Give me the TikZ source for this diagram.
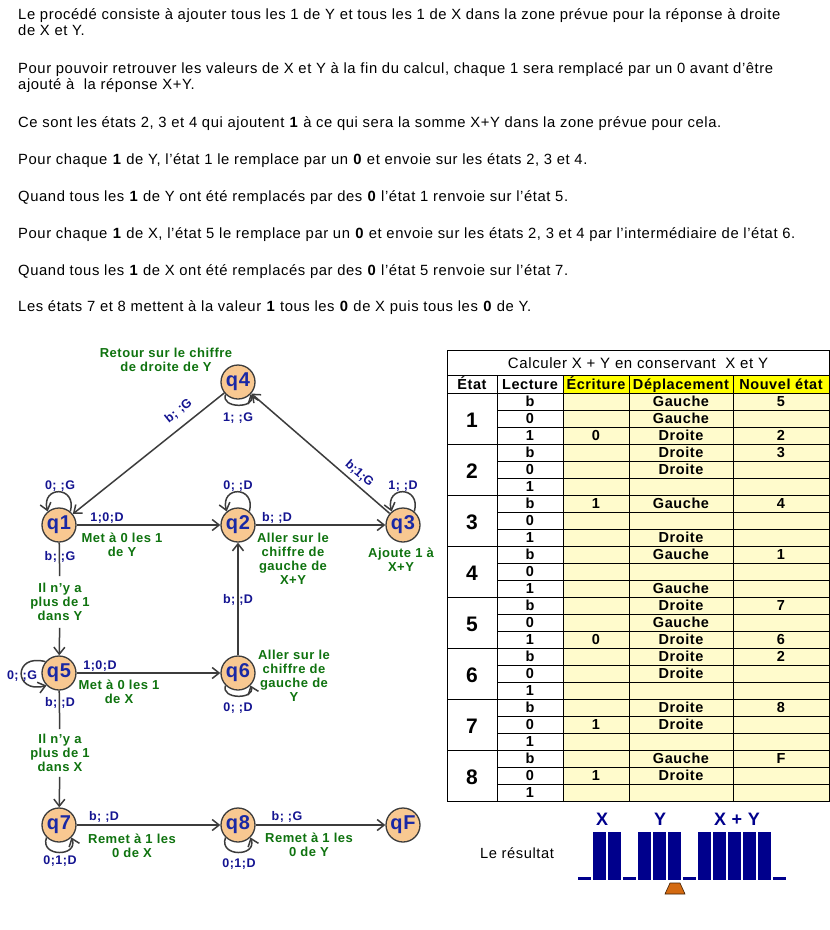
\documentclass[tikz,border=0pt]{standalone}
\usepackage{fontspec}
\setmainfont{Liberation Sans}[LetterSpace=4]
\usetikzlibrary{arrows.meta}
\newcommand\myfs[2]{\fontsize{#1}{#2}\selectfont}
\definecolor{stfill}{RGB}{248,200,145}
\definecolor{stdraw}{RGB}{60,60,60}
\definecolor{stq}{RGB}{25,40,165}
\definecolor{lblue}{RGB}{20,20,145}
\definecolor{lgreen}{RGB}{15,115,15}
\definecolor{edgec}{RGB}{60,60,60}
\definecolor{hdry}{RGB}{255,255,0}
\definecolor{celly}{RGB}{255,251,204}
\definecolor{barnavy}{RGB}{0,0,140}
\definecolor{headc}{RGB}{212,106,16}
\begin{document}
\begin{tikzpicture}[x=1pt,y=1pt,
  para/.style={anchor=base west, inner sep=0pt, font=\myfs{14.8}{17}},
  state/.style={circle, draw=stdraw, line width=1.3pt, fill=stfill, minimum size=34pt, inner sep=0pt, font=\myfs{20}{20}\bfseries, text=stq},
  edge/.style={draw=edgec, line width=1.5pt, -{Straight Barb[length=7pt,width=11pt]}},
  plain/.style={draw=edgec, line width=1.5pt},
  bl/.style={text=lblue, font=\myfs{12.5}{14}\bfseries, inner sep=0pt, text height=9pt, text depth=0pt},
  gr/.style={text=lgreen, font=\myfs{13}{14}\bfseries, align=center, inner sep=0pt},
  tbl/.style={draw=black, line width=0.9pt},
  cell/.style={inner sep=0pt, text height=10.4pt, text depth=0pt, font=\myfs{14.5}{17}\bfseries},
  hdr/.style={inner sep=0pt, text height=10.4pt, text depth=0pt, font=\myfs{14.5}{17}\bfseries},
  big/.style={inner sep=0pt, text height=15pt, text depth=0pt, font=\myfs{21}{21}\bfseries},
  lab/.style={inner sep=0pt, text height=13pt, text depth=0pt, font=\myfs{18}{18}\bfseries, text=barnavy}
]
\useasboundingbox (0,0) rectangle (830,-930);
\fill[white] (0,0) rectangle (830,-930);

% ---------- paragraph ----------
\node[para] (p1) at (18,-19) {Le procédé consiste à ajouter tous les 1 de Y et tous les 1 de X dans la zone prévue pour la réponse à droite};
\node[para] (p2) at (18,-35) {de X et Y.};
\node[para] (p3) at (18,-73) {Pour pouvoir retrouver les valeurs de X et Y à la fin du calcul, chaque 1 sera remplacé par un 0 avant d'être};
\node[para] (p4) at (18,-89) {ajouté à~ la réponse X+Y.};
\node[para] (p5) at (18,-127) {Ce sont les états 2, 3 et 4 qui ajoutent \textbf{1} à ce qui sera la somme X+Y dans la zone prévue pour cela.};
\node[para] (p6) at (18,-164) {Pour chaque \textbf{1} de Y, l'état 1 le remplace par un \textbf{0} et envoie sur les états 2, 3 et 4.};
\node[para] (p7) at (18,-201) {Quand tous les \textbf{1} de Y ont été remplacés par des \textbf{0} l'état 1 renvoie sur l'état 5.};
\node[para] (p8) at (18,-238) {Pour chaque \textbf{1} de X, l'état 5 le remplace par un \textbf{0} et envoie sur les états 2, 3 et 4 par l'intermédiaire de l'état 6.};
\node[para] (p9) at (18,-275) {Quand tous les \textbf{1} de X ont été remplacés par des \textbf{0} l'état 5 renvoie sur l'état 7.};
\node[para] (p10) at (18,-311) {Les états 7 et 8 mettent à la valeur \textbf{1} tous les \textbf{0} de X puis tous les \textbf{0} de Y.};

% ---------- states ----------
\node[state] (q4) at (238,-382) {q4};
\node[state] (q1) at (59,-525) {q1};
\node[state] (q2) at (238,-525) {q2};
\node[state] (q3) at (403,-525) {q3};
\node[state] (q5) at (59,-673) {q5};
\node[state] (q6) at (238,-673) {q6};
\node[state] (q7) at (59,-825) {q7};
\node[state] (q8) at (238,-825) {q8};
\node[state] (qF) at (403,-825) {qF};

% green labels that cut the vertical lines
\node[gr, inner ysep=7pt] (n1) at (60,-602) {Il n'y a\\plus de 1\\dans Y};
\node[gr, inner ysep=5pt] (n2) at (60,-753) {Il n'y a\\plus de 1\\dans X};

% ---------- edges ----------
\draw[edge] (q1) -- (q2);
\draw[edge] (q2) -- (q3);
\draw[edge] (q3) -- (q4);
\draw[edge] (q4) -- (q1);
\draw[edge] (q6) -- (q2);
\draw[edge] (q5) -- (q6);
\draw[edge] (q7) -- (q8);
\draw[edge] (q8) -- (qF);
\draw[plain] (q1) -- (n1);
\draw[edge] (n1) -- (q5);
\draw[plain] (q5) -- (n2);
\draw[edge] (n2) -- (q7);

% loops
\draw[edge] (q1.50) .. controls +(75:27) and +(105:27) .. (q1.130);
\draw[edge] (q2.50) .. controls +(75:27) and +(105:27) .. (q2.130);
\draw[edge] (q3.50) .. controls +(75:27) and +(105:27) .. (q3.130);
\draw[edge] (q4.225) .. controls +(250:15) and +(290:15) .. (q4.315);
\draw[edge] (q6.225) .. controls +(250:15) and +(290:15) .. (q6.315);
\draw[edge] (q7.225) .. controls +(250:21) and +(290:21) .. (q7.315);
\draw[edge] (q8.225) .. controls +(250:21) and +(290:21) .. (q8.315);
\draw[edge] (q5.140) .. controls +(165:34) and +(195:34) .. (q5.225);

% blue transition labels
\node[bl, rotate=38.6] (t41) at (178,-410) {b; ;G};
\node[bl, rotate=-40.9] (t34) at (360,-473) {\addfontfeature{LetterSpace=0}b;1;G};
\node[bl] (t44) at (238,-417) {1; ;G};
\node[bl] (t11) at (60,-485) {0; ;G};
\node[bl] (t22) at (238,-485) {0; ;D};
\node[bl] (t33) at (403,-485) {1; ;D};
\node[bl] (t12) at (107,-517) {1;0;D};
\node[bl] (t23) at (277,-517) {b; ;D};
\node[bl] (t15) at (60,-556) {b; ;G};
\node[bl] (t62) at (238,-599) {b; ;D};
\node[bl] (t55) at (22,-675) {0; ;G};
\node[bl] (t56) at (100,-665) {1;0;D};
\node[bl] (t57) at (60,-702) {b; ;D};
\node[bl] (t66) at (238,-707) {0; ;D};
\node[bl] (t78) at (104,-816) {b; ;D};
\node[bl] (t8F) at (287,-816) {b; ;G};
\node[bl] (t77) at (60,-860) {0;1;D};
\node[bl] (t88) at (239,-863) {0;1;D};

% green comments
\node[gr] (g4) at (166,-360) {Retour sur le chiffre\\de droite de Y};
\node[gr] (g1) at (122,-545) {Met à 0 les 1\\de Y};
\node[gr] (g2) at (293,-559) {Aller sur le\\chiffre de\\gauche de\\X+Y};
\node[gr] (g3) at (401,-560) {Ajoute 1 à\\X+Y};
\node[gr] (g5) at (119,-692) {Met à 0 les 1\\de X};
\node[gr] (g6) at (294,-676) {Aller sur le\\chiffre de\\gauche de\\Y};
\node[gr] (g7) at (132,-846) {Remet à 1 les\\0 de X};
\node[gr] (g8) at (309,-845) {Remet à 1 les\\0 de Y};

% ---------- table ----------
\fill[white] (447,-350) rectangle (829,-801);
\fill[hdry] (563,-375) rectangle (829,-393);
\fill[celly] (563,-393) rectangle (829,-801);
\draw[tbl] (447,-350) rectangle (829,-801);
\draw[tbl] (447,-375) -- (829,-375);
\draw[tbl] (447,-393) -- (829,-393);
\foreach \x in {497,563,629,733} \draw[tbl] (\x,-375) -- (\x,-801);
\foreach \r in {1,...,23} {
  \pgfmathsetmacro\yy{-(393+17*\r)}
  \pgfmathsetmacro\xx{mod(\r,3)==0 ? 447 : 497}
  \draw[tbl] (\xx,\yy) -- (829,\yy);
}
\node[inner sep=0pt, text height=10.4pt, text depth=0pt, font=\myfs{15}{17}] (title) at (638,-363) {Calculer X + Y en conservant~ X et Y};
\node[hdr] (hE) at (472,-384) {État};
\node[hdr] (hL) at (530,-384) {Lecture};
\node[hdr] (hW) at (596,-384) {Écriture};
\node[hdr] (hD) at (681,-384) {Déplacement};
\node[hdr] (hN) at (781,-384) {Nouvel état};
\foreach \g in {1,...,8} {
  \pgfmathsetmacro\yy{-(393+51*(\g-1)+27)}
  \node[big] (s\g) at (472,\yy) {\g};
}
\foreach \r/\l/\e/\d/\n in {0/b/{}/Gauche/5, 1/0/{}/Gauche/{}, 2/1/0/Droite/2,
  3/b/{}/Droite/3, 4/0/{}/Droite/{}, 5/1/{}/{}/{},
  6/b/1/Gauche/4, 7/0/{}/{}/{}, 8/1/{}/Droite/{},
  9/b/{}/Gauche/1, 10/0/{}/{}/{}, 11/1/{}/Gauche/{},
  12/b/{}/Droite/7, 13/0/{}/Gauche/{}, 14/1/0/Droite/6,
  15/b/{}/Droite/2, 16/0/{}/Droite/{}, 17/1/{}/{}/{},
  18/b/{}/Droite/8, 19/0/1/Droite/{}, 20/1/{}/{}/{},
  21/b/{}/Gauche/F, 22/0/1/Droite/{}, 23/1/{}/{}/{}} {
  \pgfmathsetmacro\yy{-(401.5+17*\r)}
  \node[cell] (l\r) at (530,\yy) {\l};
  \node[cell] (e\r) at (596,\yy) {\e};
  \node[cell] (d\r) at (681,\yy) {\d};
  \node[cell] (n\r) at (781,\yy) {\n};
}

% ---------- result ----------
\node[inner sep=0pt, text height=10.4pt, text depth=0pt, font=\myfs{14.7}{17}] (res) at (517,-853) {Le résultat};
\node[lab] (lx) at (602,-819) {X};
\node[lab] (ly) at (660,-819) {Y};
\node[lab] (lxy) at (737,-819) {X + Y};
\foreach \k in {1,2,4,5,6,8,9,10,11,12} \fill[barnavy] (578+15*\k,-832) rectangle ++(12.5,-48);
\foreach \k in {0,3,7,13} \fill[barnavy] (578+15*\k,-877) rectangle ++(12.5,-3);
\filldraw[fill=headc, draw=black!70!headc, line width=0.6pt] (665,-894) -- (685,-894) -- (680,-883) -- (670,-883) -- cycle;
\end{tikzpicture}
\end{document}
